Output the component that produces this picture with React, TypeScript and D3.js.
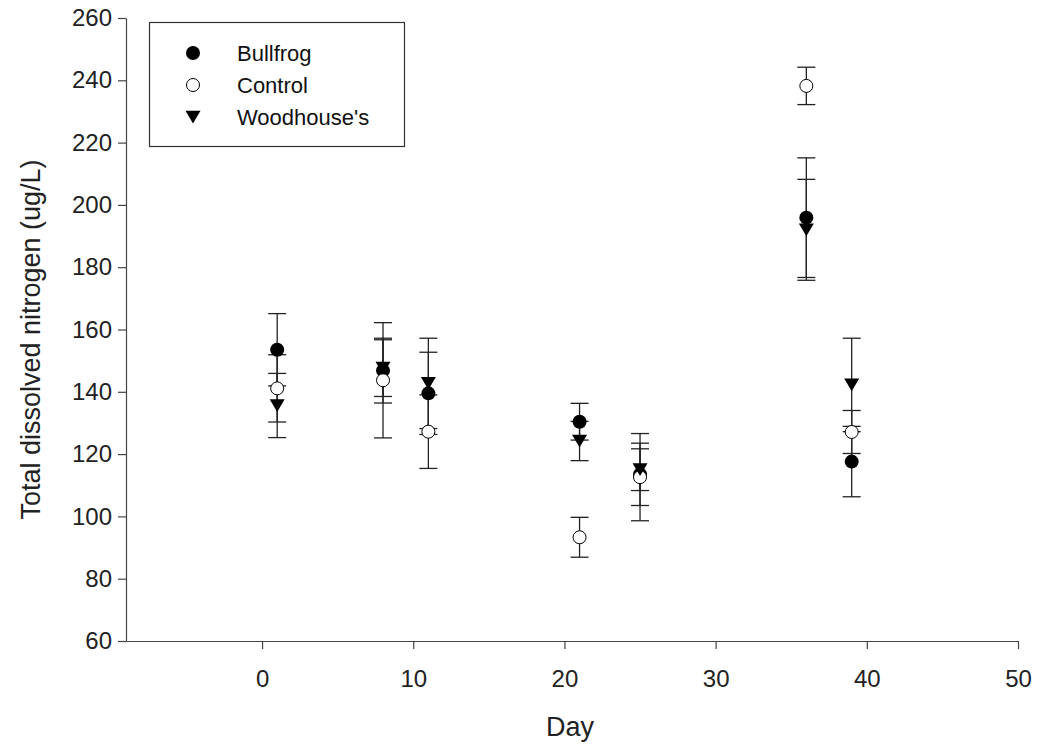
import React, { useEffect, useRef } from "react";
import * as d3 from "d3";

// sampling days
const days = [1, 8, 11, 21, 25, 36, 39];

// means and standard errors
const bullfrogMean = [153.5, 146.8, 139.5, 130.4, 113.5, 195.9, 117.6];
const bullfrogErr = [11.6, 10.4, 13.2, 5.9, 10.0, 19.2, 11.3];
const controlMean = [141.1, 143.7, 127.2, 93.3, 112.6, 238.2, 127.1];
const controlErr = [10.8, 18.5, 11.8, 6.4, 14.0, 6.0, 6.9];
const woodhouseMean = [135.6, 147.6, 142.7, 124.2, 115.0, 192.0, 142.2];
const woodhouseErr = [10.3, 9.1, 14.5, 6.3, 6.7, 16.2, 15.0];

const seriesNames = ["Bullfrog", "Control", "Woodhouse's"];
const xTicks = [0, 10, 20, 30, 40, 50];
const yTicks = [60, 80, 100, 120, 140, 160, 180, 200, 220, 240, 260];

const FONT = "'Liberation Sans', Arial, sans-serif";

function App() {
  const ref = useRef<SVGSVGElement>(null);

  useEffect(() => {
    drawChart();
  }, []);

  function drawChart() {
    const width = 1037;
    const height = 748;
    const left = 126;
    const right = 1018;
    const top = 18;
    const bottom = 641;

    const svg = d3.select(ref.current);
    svg.selectAll("*").remove();
    svg.attr("width", width).attr("height", height);

    const x = d3.scaleLinear().domain([-9, 50]).range([left, right]);
    const y = d3.scaleLinear().domain([60, 260]).range([bottom, top]);

    const series = [
      { name: seriesNames[0], mean: bullfrogMean, err: bullfrogErr, shape: "filled" },
      { name: seriesNames[1], mean: controlMean, err: controlErr, shape: "open" },
      { name: seriesNames[2], mean: woodhouseMean, err: woodhouseErr, shape: "tri" },
    ];

    // axes
    const yAxis = svg
      .append("g")
      .attr("transform", `translate(${left},0)`)
      .call(d3.axisLeft(y).tickValues(yTicks).tickSize(8).tickPadding(6).tickSizeOuter(0));
    const xAxis = svg
      .append("g")
      .attr("transform", `translate(0,${bottom})`)
      .call(
        d3
          .axisBottom(x)
          .tickValues(xTicks)
          .tickSize(8)
          .tickPadding(21)
          .tickSizeOuter(0)
          .tickFormat(d3.format("d"))
      );
    [yAxis, xAxis].forEach((g) => {
      g.select(".domain").attr("stroke", "#444").attr("stroke-width", 1.2);
      g.selectAll(".tick line").attr("stroke", "#444").attr("stroke-width", 1.2);
      g.selectAll(".tick text")
        .attr("fill", "#222")
        .style("font-family", FONT)
        .style("font-size", "24px");
    });

    svg
      .append("text")
      .attr("x", 570)
      .attr("y", 736)
      .attr("text-anchor", "middle")
      .style("font-family", FONT)
      .style("font-size", "27px")
      .attr("fill", "#222")
      .text("Day");

    svg
      .append("text")
      .attr("transform", `translate(40,${(top + bottom) / 2 + 10}) rotate(-90)`)
      .attr("text-anchor", "middle")
      .style("font-family", FONT)
      .style("font-size", "27px")
      .attr("fill", "#222")
      .text("Total dissolved nitrogen (ug/L)");

    // error bars first, markers on top
    const capW = 9;
    series.forEach((s) => {
      const g = svg.append("g").attr("stroke", "#222").attr("stroke-width", 1.3);
      days.forEach((d, i) => {
        const cx = x(d);
        const hi = y(s.mean[i] + s.err[i]);
        const lo = y(s.mean[i] - s.err[i]);
        g.append("line").attr("x1", cx).attr("x2", cx).attr("y1", hi).attr("y2", lo);
        g.append("line").attr("x1", cx - capW).attr("x2", cx + capW).attr("y1", hi).attr("y2", hi);
        g.append("line").attr("x1", cx - capW).attr("x2", cx + capW).attr("y1", lo).attr("y2", lo);
      });
    });

    const triangle = (cx: number, cy: number, w: number) => {
      const h = w * 0.85;
      return `M${cx - w / 2},${cy - h / 2}L${cx + w / 2},${cy - h / 2}L${cx},${cy + h / 2}Z`;
    };

    function marker(g: any, shape: string, cx: number, cy: number) {
      const r = 7;
      if (shape === "tri") {
        g.append("path").attr("d", triangle(cx, cy, 15)).attr("fill", "#000");
      } else {
        g.append("circle")
          .attr("cx", cx)
          .attr("cy", cy)
          .attr("r", shape === "open" ? r - 0.5 : r)
          .attr("fill", shape === "open" ? "#fff" : "#000")
          .attr("stroke", "#000")
          .attr("stroke-width", shape === "open" ? 1 : 0);
      }
    }

    series.forEach((s) => {
      const g = svg.append("g");
      days.forEach((d, i) => marker(g, s.shape, x(d), y(s.mean[i])));
    });

    // legend
    const legend = svg.append("g");
    legend
      .append("rect")
      .attr("x", 149.5)
      .attr("y", 22.5)
      .attr("width", 255)
      .attr("height", 124)
      .attr("fill", "#fff")
      .attr("stroke", "#333")
      .attr("stroke-width", 1.2);
    series.forEach((s, i) => {
      const ly = 53 + i * 32;
      marker(legend, s.shape, 193, ly);
      legend
        .append("text")
        .attr("x", 237)
        .attr("y", ly + 8)
        .style("font-family", FONT)
        .style("font-size", "22px")
        .attr("fill", "#111")
        .text(s.name);
    });
  }

  return (
    <div style={{ position: "absolute", left: 0, top: 0 }}>
      <svg ref={ref} style={{ display: "block" }}></svg>
    </div>
  );
}

export default App;
